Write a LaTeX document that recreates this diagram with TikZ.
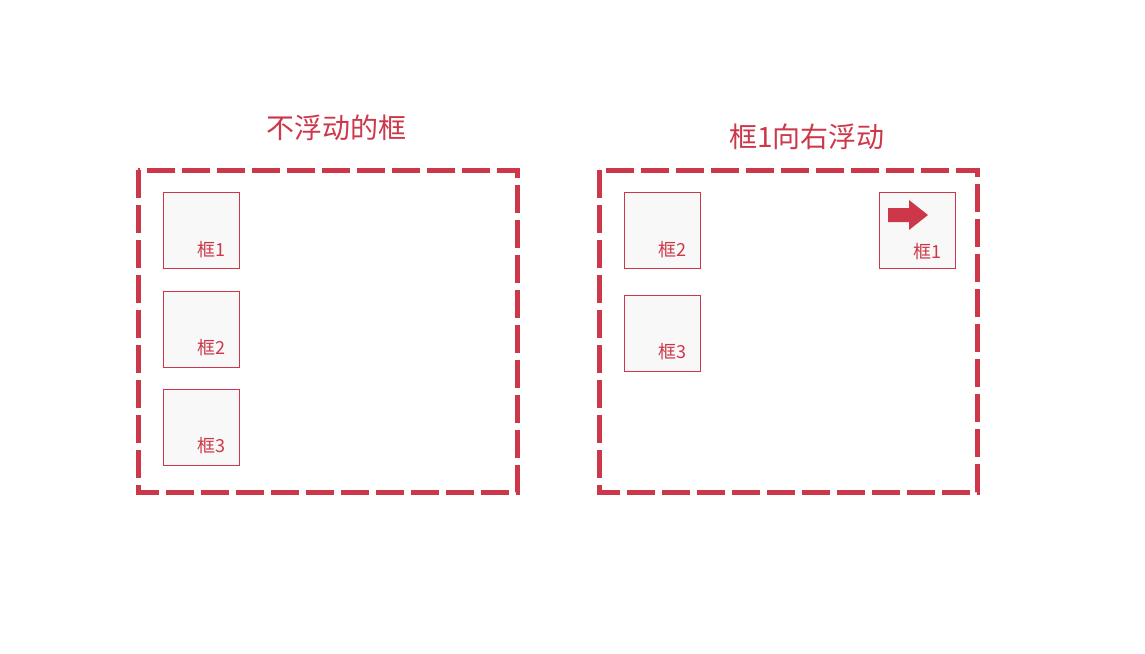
\documentclass[tikz,border=0pt]{standalone}
\usepackage{fontspec}
\newfontfamily\cjk{Noto Sans CJK SC}
\usepackage{tikz}
\usetikzlibrary{positioning}
\definecolor{boxred}{RGB}{204,56,74}
\definecolor{boxfill}{RGB}{248,248,248}
\tikzset{frame/.style={draw=boxred, line width=3.75pt, dash pattern=on 21pt off 5.25pt},
floatbox/.style={draw=boxred, fill=boxfill, line width=0.6pt, minimum size=57pt, inner sep=0pt, outer sep=0pt},
boxlabel/.style={text=boxred, font=\cjk\fontsize{13.5}{16}\selectfont, inner sep=0pt},
title/.style={text=boxred, font=\cjk\fontsize{21}{25}\selectfont}}

\begin{document}
\begin{tikzpicture}[x=0.75pt, y=-0.75pt]
        \useasboundingbox (0,0) rectangle (1145,653);
        % left: no float
        \node[title] (titleL) at (336,128) {不浮动的框};
        \draw[frame] (138,170) rectangle (517,492);
        \node[floatbox] (L1) at (201,230.5) {};
        \node[floatbox] (L2) at (201,329) {};
        \node[floatbox] (L3) at (201,427) {};
        \node[boxlabel] (L1t) at ([shift={(-28,-19)}]L1.south east) {框1};
        \node[boxlabel] (L2t) at ([shift={(-28,-19)}]L2.south east) {框2};
        \node[boxlabel] (L3t) at ([shift={(-28,-19)}]L3.south east) {框3};
        % right: box 1 floated right
        \node[title] (titleR) at (807,137) {框1向右浮动};
        \draw[frame] (599,170) rectangle (977,492);
        \node[floatbox] (R2) at (662,230.5) {};
        \node[floatbox] (R3) at (662,333) {};
        \node[floatbox] (R1) at (917,230.5) {};
        \node[boxlabel] (R2t) at ([shift={(-28,-19)}]R2.south east) {框2};
        \node[boxlabel] (R3t) at ([shift={(-28,-19)}]R3.south east) {框3};
        \node[boxlabel] (R1t) at ([shift={(-28,-17)}]R1.south east) {框1};
        \fill[boxred] (888,208) -- (909,208) -- (909,200) -- (928,215) -- (909,230) -- (909,222) -- (888,222) -- cycle;
\end{tikzpicture}
\end{document}
